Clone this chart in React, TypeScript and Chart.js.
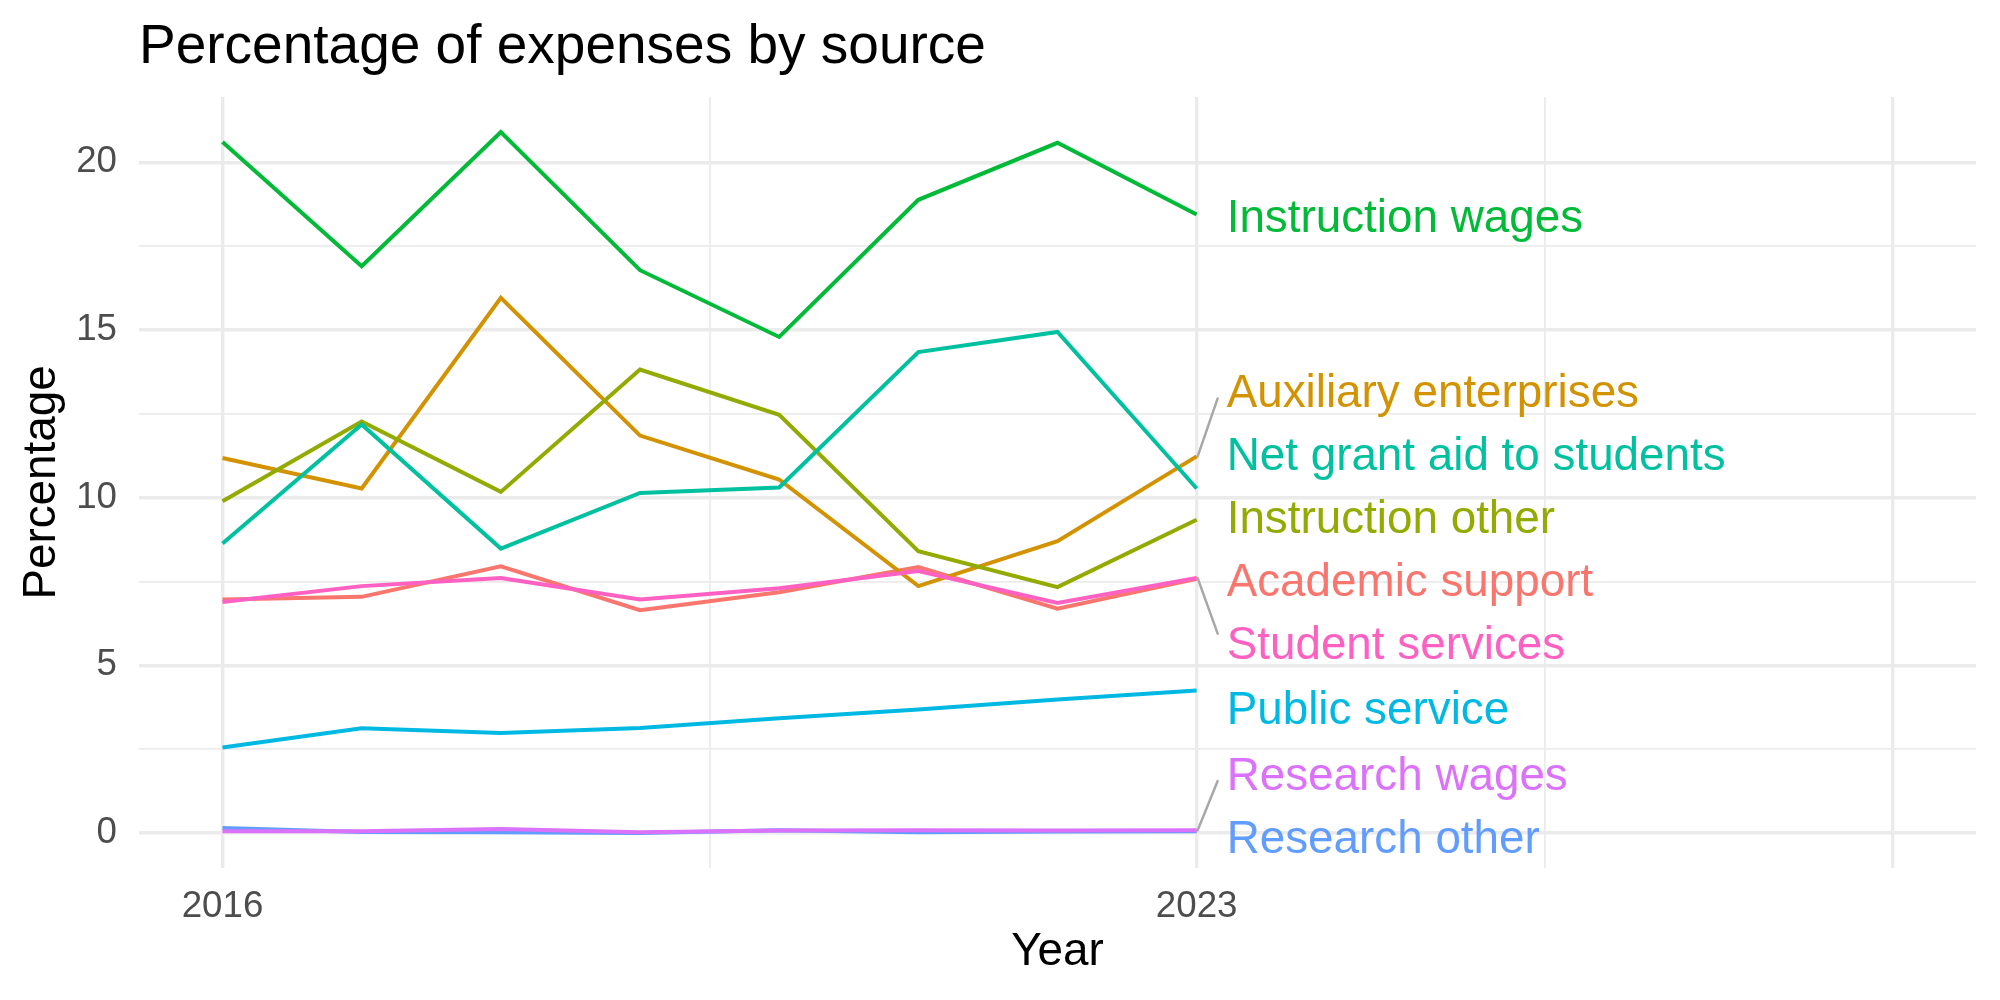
import React, { useEffect, useRef } from "react";
import { Chart, registerables } from "chart.js";

Chart.register(...registerables);

const years = [2016, 2017, 2018, 2019, 2020, 2021, 2022, 2023];

const seriesNames = [
  "Academic support",
  "Auxiliary enterprises",
  "Instruction other",
  "Instruction wages",
  "Net grant aid to students",
  "Public service",
  "Research other",
  "Research wages",
  "Student services",
];

const academicSupport = [6.96, 7.04, 7.95, 6.64, 7.18, 7.93, 6.69, 7.58];
const auxiliaryEnterprises = [11.18, 10.27, 15.96, 11.85, 10.54, 7.36, 8.7, 11.23];
const instructionOther = [9.89, 12.27, 10.17, 13.82, 12.47, 8.4, 7.33, 9.34];
const instructionWages = [20.6, 16.9, 20.9, 16.78, 14.79, 18.88, 20.58, 18.44];
const netGrantAid = [8.63, 12.18, 8.48, 10.14, 10.3, 14.34, 14.94, 10.27];
const publicService = [2.55, 3.12, 2.98, 3.13, 3.42, 3.68, 3.98, 4.25];
const researchOther = [0.15, 0.03, 0.02, 0.0, 0.08, 0.02, 0.04, 0.05];
const researchWages = [0.05, 0.05, 0.12, 0.02, 0.07, 0.08, 0.07, 0.08];
const studentServices = [6.89, 7.36, 7.6, 6.96, 7.3, 7.81, 6.86, 7.6];

const seriesValues = [
  academicSupport,
  auxiliaryEnterprises,
  instructionOther,
  instructionWages,
  netGrantAid,
  publicService,
  researchOther,
  researchWages,
  studentServices,
];

// repelled label positions (data units) at the last year
const labelValues = [7.56, 13.18, 9.44, 18.41, 11.31, 3.73, -0.11, 1.77, 5.69];

const colors = [
  "#F8766D",
  "#D39200",
  "#93AA00",
  "#00BA38",
  "#00C19F",
  "#00B9E3",
  "#619CFF",
  "#DB72FB",
  "#FF61C3",
];

const xGridTicks = [2016, 2019.5, 2023, 2025.5, 2028];
const xMajorTicks = [2016, 2023, 2028];
const xLabeledTicks = [2016, 2023];
const yGridTicks = [0, 2.5, 5, 7.5, 10, 12.5, 15, 17.5, 20];

const FONT = "'Liberation Sans', Arial, Helvetica, sans-serif";

export default function App() {
  const canvasRef = useRef<HTMLCanvasElement | null>(null);

  useEffect(() => {
    document.body.style.margin = "0";
    const canvas = canvasRef.current;
    if (!canvas) return;

    const overlay = {
      id: "overlay",
      afterDatasetsDraw(chart: any) {
        const ctx = chart.ctx;
        const xs = chart.scales.x;
        const ys = chart.scales.y;
        const lastYear = years[years.length - 1];
        const labelFont = 45.8;
        const px = xs.getPixelForValue(lastYear);
        const labelX = px + 29;
        ctx.save();
        // segments
        ctx.strokeStyle = "#A8A8A8";
        ctx.lineWidth = 2.5;
        ctx.lineCap = "round";
        seriesValues.forEach((vals, i) => {
          const last = vals[vals.length - 1];
          const lv = labelValues[i];
          if (Math.abs(lv - last) > 1.5) {
            const py = ys.getPixelForValue(last);
            const ly = ys.getPixelForValue(lv);
            const endY = ly + (py > ly ? 7.5 : -8.5);
            ctx.beginPath();
            ctx.moveTo(px + 1, py);
            ctx.lineTo(labelX - 8, endY);
            ctx.stroke();
          }
        });
        // labels
        ctx.font = `${labelFont}px ${FONT}`;
        ctx.textAlign = "left";
        ctx.textBaseline = "alphabetic";
        seriesNames.forEach((name, i) => {
          const ly = ys.getPixelForValue(labelValues[i]);
          ctx.fillStyle = colors[i];
          ctx.fillText(name, labelX + 1, ly + (labelFont * 0.716) / 2);
        });
        ctx.restore();
      },
      afterDraw(chart: any) {
        const ctx = chart.ctx;
        const area = chart.chartArea;
        ctx.save();
        ctx.fillStyle = "#000000";
        ctx.textBaseline = "alphabetic";
        // title
        ctx.font = `55px ${FONT}`;
        ctx.textAlign = "left";
        ctx.fillText("Percentage of expenses by source", area.left, 62.7);
        // x title
        ctx.font = `45.8px ${FONT}`;
        ctx.textAlign = "center";
        ctx.fillText("Year", (area.left + area.right) / 2, 965);
        // y title
        ctx.translate(55, (area.top + area.bottom) / 2);
        ctx.rotate(-Math.PI / 2);
        ctx.fillText("Percentage", 0, 0);
        ctx.restore();
      },
    };

    const datasets = seriesNames.map((name, i) => ({
      label: name,
      data: years.map((yr, j) => ({ x: yr, y: seriesValues[i][j] })),
      borderColor: colors[i],
      backgroundColor: colors[i],
      borderWidth: 4,
      pointRadius: 0,
      tension: 0,
      fill: false,
      order: seriesNames.length - i,
    }));

    const chart = new Chart(canvas, {
      type: "line",
      data: { datasets },
      options: {
        animation: false,
        responsive: false,
        layout: { padding: { top: 97, right: 24, left: 0, bottom: 0 } },
        plugins: {
          legend: { display: false },
          tooltip: { enabled: false },
          title: { display: false },
        },
        scales: {
          x: {
            type: "linear",
            min: 2015.4,
            max: 2028.6,
            afterBuildTicks: (scale: any) => {
              scale.ticks = xGridTicks.map((v) => ({ value: v }));
            },
            afterFit: (scale: any) => {
              scale.height = 132;
            },
            border: { display: false },
            grid: {
              color: "#EBEBEB",
              drawTicks: false,
              lineWidth: (c: any) =>
                c.tick && xMajorTicks.includes(c.tick.value) ? 3.4 : 1.8,
            },
            ticks: {
              autoSkip: false,
              maxRotation: 0,
              padding: 17,
              color: "#4D4D4D",
              font: { family: FONT, size: 36.7 },
              callback: (v: any) =>
                xLabeledTicks.includes(Number(v)) ? String(v) : "",
            },
          },
          y: {
            type: "linear",
            min: -1.045,
            max: 21.945,
            afterBuildTicks: (scale: any) => {
              scale.ticks = yGridTicks.map((v) => ({ value: v }));
            },
            afterFit: (scale: any) => {
              scale.width = 139;
            },
            border: { display: false },
            grid: {
              color: "#EBEBEB",
              drawTicks: false,
              lineWidth: (c: any) =>
                c.tick && c.tick.value % 5 === 0 ? 3.4 : 1.8,
            },
            ticks: {
              autoSkip: false,
              padding: 22,
              color: "#4D4D4D",
              font: { family: FONT, size: 36.7 },
              callback: (v: any) =>
                Number(v) % 5 === 0 ? String(v) : "",
            },
          },
        },
      },
      plugins: [overlay],
    });

    return () => {
      chart.destroy();
    };
  }, []);

  return (
    <div style={{ width: 2000, height: 1000, background: "#ffffff" }}>
      <canvas ref={canvasRef} width={2000} height={1000} />
    </div>
  );
}
